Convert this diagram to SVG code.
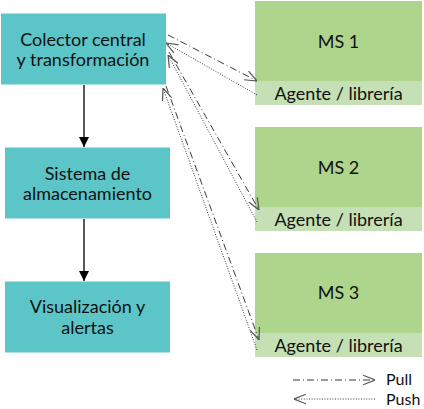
<svg xmlns="http://www.w3.org/2000/svg" width="424" height="409" viewBox="0 0 424 409">
<style>
.t{font-family:Lato,"Open Sans","Liberation Sans",sans-serif;font-size:18px;fill:#111;text-anchor:middle}
.teal{fill:#5BC5C8;stroke:#fff;stroke-width:1}
.ms{fill:#AED58C}
.ag{fill:#C5E0B4}
.pull{fill:none;stroke:#222;stroke-width:0.9;stroke-dasharray:7 3 1 3}
.push{fill:none;stroke:#222;stroke-width:0.9;stroke-dasharray:1 1.6}
.flow{stroke:#000;stroke-width:1.3}
.lg{text-anchor:start;font-size:16px}
</style>
<defs>
<marker id="open" viewBox="0 0 10 10" refX="10" refY="5" markerWidth="12" markerHeight="12" markerUnits="userSpaceOnUse" orient="auto">
<path d="M0,1 L10,5 L0,9" fill="none" stroke="#555" stroke-width="1"/>
</marker>
<marker id="solid" viewBox="0 0 10 10" refX="10" refY="5" markerWidth="10" markerHeight="10" markerUnits="userSpaceOnUse" orient="auto">
<path d="M0,0 L10,5 L0,10 Z" fill="#000"/>
</marker>
</defs>
<g id="collector"><rect class="teal" x="0.5" y="13" width="166" height="72"/><text class="t" x="83" y="46">Colector central</text><text class="t" x="83" y="66">y transformación</text></g>
<g id="storage"><rect class="teal" x="4.5" y="147" width="166" height="72"/><text class="t" x="87.5" y="180">Sistema de</text><text class="t" x="87.5" y="200">almacenamiento</text></g>
<g id="viz"><rect class="teal" x="4.5" y="281" width="166" height="72"/><text class="t" x="87.5" y="313">Visualización y</text><text class="t" x="87.5" y="334">alertas</text></g>
<g id="ms1"><rect class="ms" x="255" y="1" width="167" height="80"/><rect class="ag" x="255" y="81" width="167" height="24"/><text class="t" x="338.5" y="48">MS 1</text><text class="t" x="338.5" y="100">Agente / librería</text></g>
<g id="ms2"><rect class="ms" x="255" y="127" width="167" height="80"/><rect class="ag" x="255" y="207" width="167" height="24"/><text class="t" x="338.5" y="174">MS 2</text><text class="t" x="338.5" y="226">Agente / librería</text></g>
<g id="ms3"><rect class="ms" x="255" y="253" width="167" height="80"/><rect class="ag" x="255" y="333" width="167" height="24"/><text class="t" x="338.5" y="299">MS 3</text><text class="t" x="338.5" y="352">Agente / librería</text></g>
<g id="connectors">
<line class="flow" x1="84" y1="85" x2="84" y2="147" marker-end="url(#solid)"/>
<line class="flow" x1="84" y1="219" x2="84" y2="281" marker-end="url(#solid)"/>
<line class="pull" x1="168" y1="35" x2="257" y2="81" marker-end="url(#open)"/>
<line class="push" x1="257" y1="95" x2="166" y2="43" marker-end="url(#open)"/>
<line class="pull" x1="169" y1="52" x2="259" y2="210" marker-end="url(#open)"/>
<line class="push" x1="257" y1="222" x2="168" y2="55" marker-end="url(#open)"/>
<line class="pull" x1="166" y1="86" x2="259" y2="340" marker-end="url(#open)"/>
<line class="push" x1="257" y1="350" x2="163" y2="88" marker-end="url(#open)"/>
</g>
<g id="legend">
<line class="pull" x1="293" y1="380" x2="375" y2="380" marker-end="url(#open)"/>
<line class="push" x1="375" y1="399" x2="294" y2="399" marker-end="url(#open)"/>
<text class="t lg" x="386" y="385">Pull</text>
<text class="t lg" x="386" y="405">Push</text>
</g>
</svg>
